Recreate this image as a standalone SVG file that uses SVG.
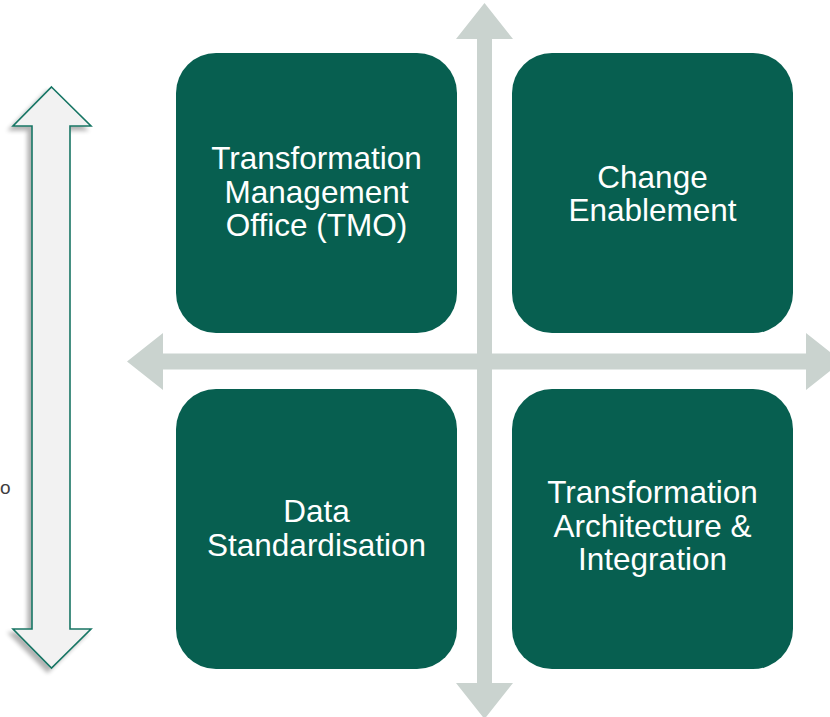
<svg xmlns="http://www.w3.org/2000/svg" width="830" height="717" viewBox="0 0 830 717">
  <style>
    .box { fill: #075f50; }
    .lbl { fill: #ffffff; font-family: "Liberation Sans", Arial, sans-serif; font-size: 31.5px; text-anchor: middle; }
    .axis { fill: #cad3cf; }
    .side { font-family: "Liberation Sans", Arial, sans-serif; font-size: 19px; fill: #3f3f3f; }
  </style>
  <defs>
    <filter id="shadow" x="-30%" y="-5%" width="160%" height="110%">
      <feGaussianBlur in="SourceAlpha" stdDeviation="2"/>
      <feOffset dx="-4" dy="4" result="b"/>
      <feComponentTransfer><feFuncA type="linear" slope="0.3"/></feComponentTransfer>
      <feMerge><feMergeNode/><feMergeNode in="SourceGraphic"/></feMerge>
    </filter>
  </defs>
  <rect width="830" height="717" fill="#ffffff"/>

  <g id="side-arrow">
    <polygon points="51.5,87 91,126 70,126 70,629 91,629 51.5,668 13,629 32,629 32,126 13,126" fill="#f2f2f2" stroke="#177564" stroke-width="1.6" stroke-linejoin="miter" filter="url(#shadow)"/>
    <text class="side" x="0" y="494">o</text>
  </g>

  <g id="connectors">
    <polygon class="axis" points="127,361.5 163,333 163,353.5 806,353.5 806,333 842,361.5 806,390 806,369.5 163,369.5 163,390"/>
    <polygon class="axis" points="484.5,3 513,39 492,39 492,683 513,683 484.5,719 456,683 477,683 477,39 456,39"/>
  </g>

  <g id="tmo">
    <rect class="box" x="176" y="53" width="281" height="280" rx="40" ry="40"/>
    <text class="lbl" x="316.5" y="169">Transformation</text>
    <text class="lbl" x="316.5" y="203">Management</text>
    <text class="lbl" x="316.5" y="236">Office (TMO)</text>
  </g>

  <g id="change">
    <rect class="box" x="512" y="53" width="281" height="280" rx="40" ry="40"/>
    <text class="lbl" x="652.5" y="188">Change</text>
    <text class="lbl" x="652.5" y="221">Enablement</text>
  </g>

  <g id="data">
    <rect class="box" x="176" y="389" width="281" height="280" rx="40" ry="40"/>
    <text class="lbl" x="316.5" y="522">Data</text>
    <text class="lbl" x="316.5" y="556">Standardisation</text>
  </g>

  <g id="architecture">
    <rect class="box" x="512" y="389" width="281" height="280" rx="40" ry="40"/>
    <text class="lbl" x="652.5" y="503">Transformation</text>
    <text class="lbl" x="652.5" y="537">Architecture &amp;</text>
    <text class="lbl" x="652.5" y="570">Integration</text>
  </g>
</svg>
